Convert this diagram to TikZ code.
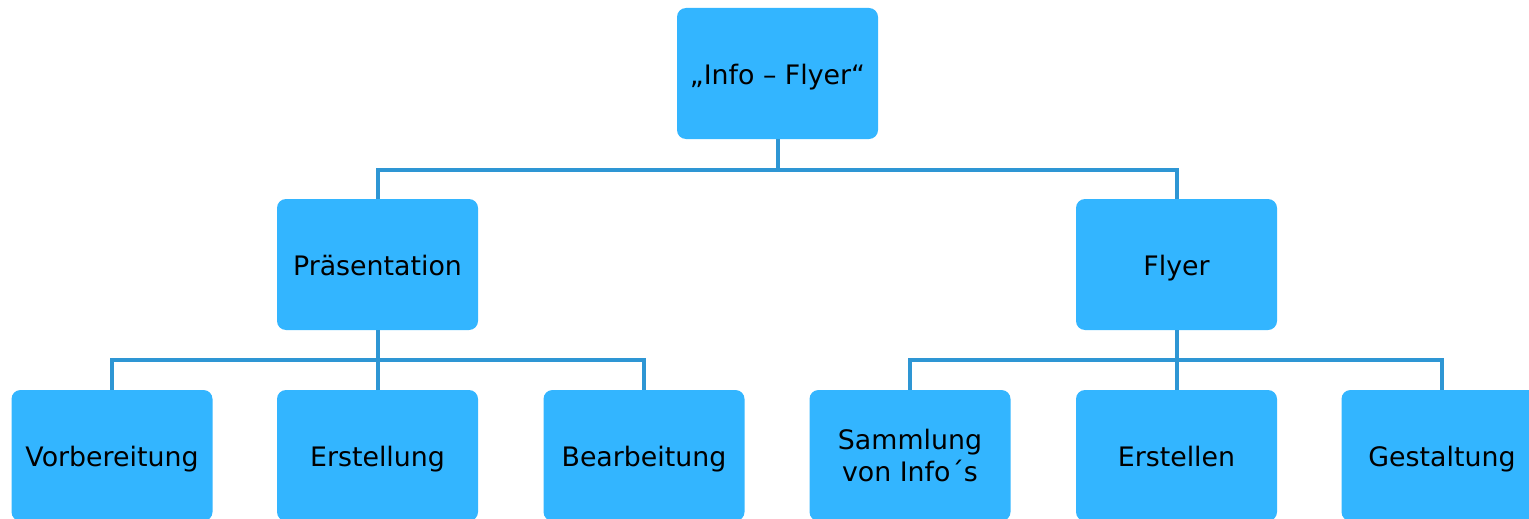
\documentclass[tikz,border=0pt]{standalone}
\usepackage{fontspec}
\setmainfont{DejaVu Sans}
\definecolor{boxfill}{RGB}{51,181,255}
\definecolor{connline}{RGB}{46,150,212}
\begin{document}
\begin{tikzpicture}[x=1pt,y=-1pt,
  box/.style={fill=boxfill,draw=none,rounded corners=9pt,minimum width=201pt,minimum height=131pt,inner sep=0pt,align=center,font=\fontsize{26.8}{32}\selectfont},
  onebox/.style={box,text height=22pt,text depth=0pt},
  conn/.style={draw=connline,line width=4pt}]
\useasboundingbox (0,0) rectangle (1529,519);
\clip (0,0) rectangle (1529,519);
\node[onebox] (root) at (777.5,73.5) {„Info – Flyer“};
\node[onebox] (pres) at (377.5,264.5) {Präsentation};
\node[onebox] (flyer) at (1176.5,264.5) {Flyer};
\node[onebox] (vorb) at (112,455.5) {Vorbereitung};
\node[onebox] (erst) at (377.5,455.5) {Erstellung};
\node[onebox] (bear) at (644,455.5) {Bearbeitung};
\node[box] (samm) at (910,455.5) {Sammlung\\von Info´s};
\node[onebox] (erstn) at (1176.5,455.5) {Erstellen};
\node[onebox] (gest) at (1442,455.5) {Gestaltung};
\coordinate (j0) at (777.5,170);
\coordinate (j1) at (377.5,360);
\coordinate (j2) at (1176.5,360);
\draw[conn] (root.south) -- (j0) -| (pres.north);
\draw[conn] (j0) -| (flyer.north);
\draw[conn] (pres.south) -- (j1) -| (vorb.north);
\draw[conn] (j1) -- (erst.north);
\draw[conn] (j1) -| (bear.north);
\draw[conn] (flyer.south) -- (j2) -| (samm.north);
\draw[conn] (j2) -- (erstn.north);
\draw[conn] (j2) -| (gest.north);
\end{tikzpicture}
\end{document}
